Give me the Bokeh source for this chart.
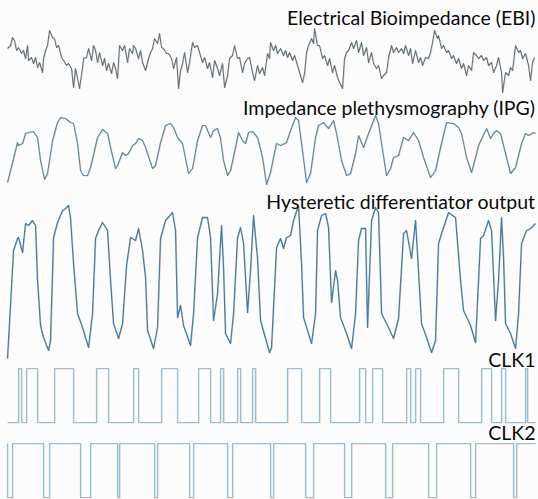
from bokeh.plotting import figure
from bokeh.models import Range1d
from bokeh.core.properties import value
from bokeh.embed import file_html
from bokeh.resources import INLINE

# ---------------- data (sample index, amplitude) ----------------
ebi_t = [7,10,12,14,16,18,21,23,25,27,28,31,33,35,37,39,42,43,45,47,49,52,54,56,58,61,63,66,68,71,73,75,77,79,82,83,86,88,91,93,95,97,99,102,104,106,108,111,113,115,117,119,122,124,127,129,132,133,
         135,138,140,142,145,148,150,152,154,157,159,161,163,166,168,171,173,176,178,180,182,184,187,189,192,194,197,199,202,204,207,209,212,214,217,219,222,224,227,229,232,234,237,239,242,244,247,249,252,254,257,259,262,264,267,269,
         270,273,275,277,280,283,285,287,289,292,294,297,299,302,304,306,308,311,313,314,317,319,322,324,327,329,332,334,337,339,342,344,346,348,351,353,356,358,361,363,366,368,371,373,376,378,381,383,386,388,391,393,396,398,401,403,
         405,408,410,412,415,418,420,422,425,428,430,432,434,437,438,441,443,446,448,451,453,456,458,461,463,466,468,471,473,476,478,481,483,486,488,491,493,496,498,501,502,505,508,510,512,515,518,520,522,525,528,530,532,534]
ebi_y = [48,45,37,40,50,47,53,50,58,45,60,57,63,57,67,62,72,58,50,45,30,37,38,47,45,57,60,65,63,68,87,68,78,88,67,58,57,48,60,45,50,62,52,65,58,70,63,73,62,68,78,45,50,45,62,48,53,45,
         48,58,50,62,70,58,52,48,38,43,33,47,48,53,53,58,68,57,88,70,63,52,72,62,42,47,45,52,62,57,68,62,77,60,68,75,63,87,75,58,55,45,58,57,72,63,58,57,72,80,65,73,67,75,53,58,
         42,50,45,53,48,55,50,57,52,60,55,65,72,82,73,52,45,38,43,28,45,45,58,55,65,58,72,65,77,82,88,58,52,50,42,48,40,52,42,55,47,62,52,63,68,65,78,75,72,57,45,52,47,52,48,53,
         45,55,48,63,50,62,57,65,57,58,52,42,30,38,35,48,45,52,50,58,55,63,58,68,63,75,65,70,52,55,58,55,60,57,65,62,72,65,57,72,92,72,75,67,70,45,52,50,58,53,65,80,62,57]

ipg = [(7,182),(17,142),(18,145),(22,143),(25,133),(28,132),(33,131),(37,137),(40,160),(44,179),(47,173),(52,140),(57,122),(60,117),(65,118),(70,122),(73,123),(77,143),(80,170),(83,175),(87,175),(90,167),(97,137),(102,129),(107,133),(110,147),(115,168),(117,165),(122,152),(125,155),(128,153),(132,145),(135,143),(138,138),(142,140),(145,147),(152,168),(155,165),(160,142),(165,125),(170,123),(173,127),(177,137),(182,143),(188,173),(192,168),(197,140),(202,125),(205,125),(210,137),(213,130),(217,128),(220,138),(223,160),(227,175),(230,170),(235,147),(238,132),(242,140),(245,143),(248,132),(252,131),(257,137),(262,157),(266,184),(270,172),(273,157),(276,143),(280,145),(286,142),(290,130),(295,117),(298,120),(301,143),(306,182),(310,173),(315,137),(318,125),(323,122),(328,128),(333,120),(336,133),(341,160),(346,175),(350,173),(355,153),(358,135),(363,147),(368,133),(375,115),(378,123),(381,143),(386,175),(390,168),(393,157),(398,155),(403,137),(408,140),(413,132),(418,140),(423,157),(430,177),(435,170),(440,147),(446,122),(453,123),(458,127),(461,133),(466,157),(471,172),(475,157),(478,145),(486,128),(490,138),(493,133),(496,130),(500,133),(505,153),(510,173),(515,167),(521,143),(525,133),(528,135),(533,132),(535,133)]

hyst = [(7,358),(13,250),(17,238),(18,237),(22,252),(25,223),(28,225),(32,220),(35,225),(37,280),(40,325),(43,337),(48,350),(50,340),(53,237),(57,222),(62,210),(65,208),(68,205),(70,218),(73,263),(77,313),(82,327),(88,347),(92,313),(95,238),(98,230),(102,222),(107,230),(110,280),(113,323),(118,338),(122,323),(126,265),(130,237),(135,240),(138,228),(142,250),(145,277),(147,330),(153,348),(157,327),(160,238),(165,220),(172,212),(175,230),(177,317),(180,305),(183,325),(190,345),(193,313),(197,237),(202,217),(207,217),(210,237),(213,320),(217,293),(221,225),(223,267),(225,333),(230,343),(233,313),(237,237),(240,227),(243,243),(247,312),(250,270),(253,215),(257,258),(260,320),(267,345),(269,352),(271,347),(276,247),(280,238),(283,248),(286,237),(290,235),(293,220),(298,205),(301,263),(303,317),(311,343),(315,313),(317,230),(321,215),(325,213),(328,227),(331,302),(335,270),(337,280),(340,317),(346,333),(351,348),(355,313),(358,240),(361,228),(365,228),(367,327),(371,220),(375,207),(378,212),(381,313),(388,327),(393,338),(398,318),(403,233),(406,230),(411,258),(415,220),(421,323),(426,337),(431,352),(435,340),(438,243),(441,233),(448,212),(455,217),(460,280),(463,310),(470,325),(475,342),(480,238),(483,235),(488,220),(491,230),(495,320),(498,280),(501,217),(503,257),(505,323),(510,333),(515,348),(518,313),(521,243),(526,230),(530,228),(535,223)]

clk1_high = [(18,21),(26,37),(54,73),(96,108),(133,138),(161,177),(198,210),(220,223),(237,240),(252,255),(287,301),(319,330),(359,365),(372,382),(406,410),(415,420),(443,458),(481,491),(501,505),(525,527)]
clk2_low = [(7,12),(43,49),(80,90),(117,119),(154,157),(189,193),(227,232),(270,273),(305,313),(344,351),(385,392),(428,436),(470,475),(513,516)]
t_start, t_end = 7, 535

labels = ["Electrical Bioimpedance (EBI)", "Impedance plethysmography (IPG)",
          "Hysteretic differentiator output", "CLK1", "CLK2"]

# ---------------- layout (display positions) ----------------
label_y = [-17, -107, -201, -359, -432]

p = figure(width=538, height=499, x_range=Range1d(0, 538), y_range=Range1d(-499, 0),
           output_backend="svg", toolbar_location=None, min_border=0,
           x_axis_type=None, y_axis_type=None,
           background_fill_color="#fcfcfc", border_fill_color="#fcfcfc", outline_line_color=None)
p.grid.visible = False

def trace(xs, ys, color, width=1.1, shadow="#f0a888"):
    p.line([x + 0.6 for x in xs], [y - 0.5 for y in ys], line_color=shadow, line_width=1,
           line_alpha=0.5, line_join="round")
    p.line(xs, ys, line_color=color, line_width=width, line_join="round")

trace(ebi_t, [-y for y in ebi_y], "#5a7482", 1.1)
trace([a for a, b in ipg], [-b for a, b in ipg], "#5a8aa6", 1.2)
trace([a for a, b in hyst], [-b for a, b in hyst], "#3f7fa8", 1.3)

def clk_steps(intervals, high_default, lo, hi):
    xs = [t_start]
    ys = [hi if high_default else lo]
    for a, b in intervals:
        v_in = lo if high_default else hi
        v_out = hi if high_default else lo
        xs += [a, a, b, b]
        ys += [ys[-1], v_in, v_in, v_out]
    xs.append(t_end)
    ys.append(ys[-1])
    return xs, ys

x1, y1 = clk_steps(clk1_high, False, -422, -368)
trace(x1, y1, "#8cc2de", 1.2)
x2, y2 = clk_steps(clk2_low, True, -497, -443)
trace(x2, y2, "#8cc2de", 1.2)

p.text(x=[t_end] * len(labels), y=label_y, text=labels, text_align="right",
       text_baseline="middle", text_font=value("Lato"), text_font_size="19.5px",
       text_color="#0a0a0a")

open("out.html", "w").write(file_html(p, INLINE))
